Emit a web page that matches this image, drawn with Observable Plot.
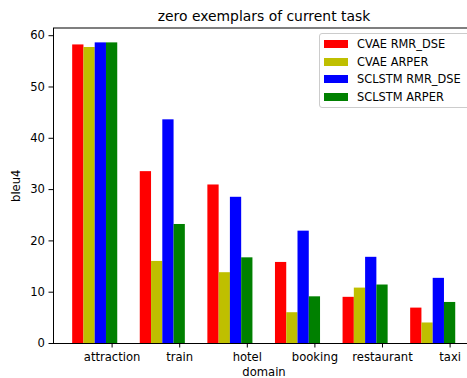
<!DOCTYPE html>
<html>
<head>
<meta charset="utf-8">
<script src="https://cdn.jsdelivr.net/npm/d3@7"></script>
<script src="https://cdn.jsdelivr.net/npm/@observablehq/plot@0.6"></script>
<style>
  body { margin: 0; background: white; font-family: "DejaVu Sans", sans-serif; }
  #wrap { position: relative; width: 467px; height: 378px; overflow: hidden; background: white; }
  #legend { position: absolute; left: 319px; top: 33px; width: 160px; height: 75px;
    border: 1px solid #cccccc; border-radius: 3px; background: rgba(255,255,255,0.8); box-sizing: border-box; }
  .item { position: absolute; left: 0; height: 18px; font-size: 11.4px; color: #000; white-space: nowrap; }
  .sw { position: absolute; left: 4px; width: 24px; height: 8px; }
  .lb { position: absolute; left: 37px; top: -7px; line-height: 14px; }
</style>
</head>
<body>
<div id="wrap"></div>
<script>
const domains = ["attraction", "train", "hotel", "booking", "restaurant", "taxi"];
const seriesNames = ["CVAE RMR_DSE", "CVAE ARPER", "SCLSTM RMR_DSE", "SCLSTM ARPER"];
const cvaeRmrDse   = [58.2, 33.5, 30.9, 15.8, 9.0, 6.9];
const cvaeArper    = [57.7, 16.0, 13.8, 6.0, 10.8, 4.0];
const sclstmRmrDse = [58.6, 43.6, 28.5, 21.9, 16.8, 12.7];
const sclstmArper  = [58.6, 23.2, 16.7, 9.1, 11.4, 8.0];
const colors = ["#ff0000", "#bfbf00", "#0000ff", "#008000"];
const yTicks = [0, 10, 20, 30, 40, 50, 60];

const allSeries = [cvaeRmrDse, cvaeArper, sclstmRmrDse, sclstmArper];
const w = 1 / 6;
const data = [];
allSeries.forEach((vals, k) => {
  vals.forEach((v, i) => {
    data.push({series: seriesNames[k], domain: domains[i], x1: i + k * w - w / 2, x2: i + k * w + w / 2, value: v});
  });
});

const fs = 11.6;
const chart = Plot.plot({
  width: 474,
  height: 378,
  marginLeft: 53,
  marginRight: 0,
  marginTop: 27.5,
  marginBottom: 35,
  style: {fontFamily: "DejaVu Sans, sans-serif", fontSize: fs + "px", color: "black", background: "white", overflow: "visible"},
  x: {type: "linear", domain: [-0.367, 5.861], axis: null},
  y: {domain: [0, 61.5], axis: null},
  color: {domain: seriesNames, range: colors},
  marks: [
    Plot.rect(data, {x1: "x1", x2: "x2", y1: 0, y2: "value", fill: "series"}),
    Plot.axisX({ticks: domains.map((d, i) => i + 0.5), tickFormat: v => domains[Math.round(v - 0.5)],
      tickSize: 4.5, tickPadding: 4.5, fontSize: fs, stroke: "black", label: null}),
    Plot.axisY({ticks: yTicks, tickFormat: d => String(d), tickSize: 4.5, tickPadding: 4,
      fontSize: fs, stroke: "black", label: null}),
    Plot.frame({stroke: "black", strokeWidth: 1}),
    Plot.text(["zero exemplars of current task"], {frameAnchor: "top", dy: -11.5, fontSize: 13.9, lineAnchor: "middle", fill: "black"}),
    Plot.text(["domain"], {frameAnchor: "bottom", dy: 28.8, fontSize: fs, lineAnchor: "middle", fill: "black"}),
    Plot.text(["bleu4"], {frameAnchor: "left", dx: -37, rotate: -90, textAnchor: "middle", lineAnchor: "middle", fontSize: fs, fill: "black"})
  ]
});
chart.style.maxWidth = "none";
const wrap = document.getElementById("wrap");
wrap.appendChild(chart);

const legend = document.createElement("div");
legend.id = "legend";
seriesNames.forEach((name, k) => {
  const item = document.createElement("div");
  item.className = "item";
  item.style.top = (6 + k * 17.6) + "px";
  const sw = document.createElement("div");
  sw.className = "sw";
  sw.style.background = colors[k];
  const lb = document.createElement("div");
  lb.className = "lb";
  lb.textContent = name;
  lb.style.top = "-3px";
  item.appendChild(sw);
  item.appendChild(lb);
  legend.appendChild(item);
});
wrap.appendChild(legend);
</script>
</body>
</html>
